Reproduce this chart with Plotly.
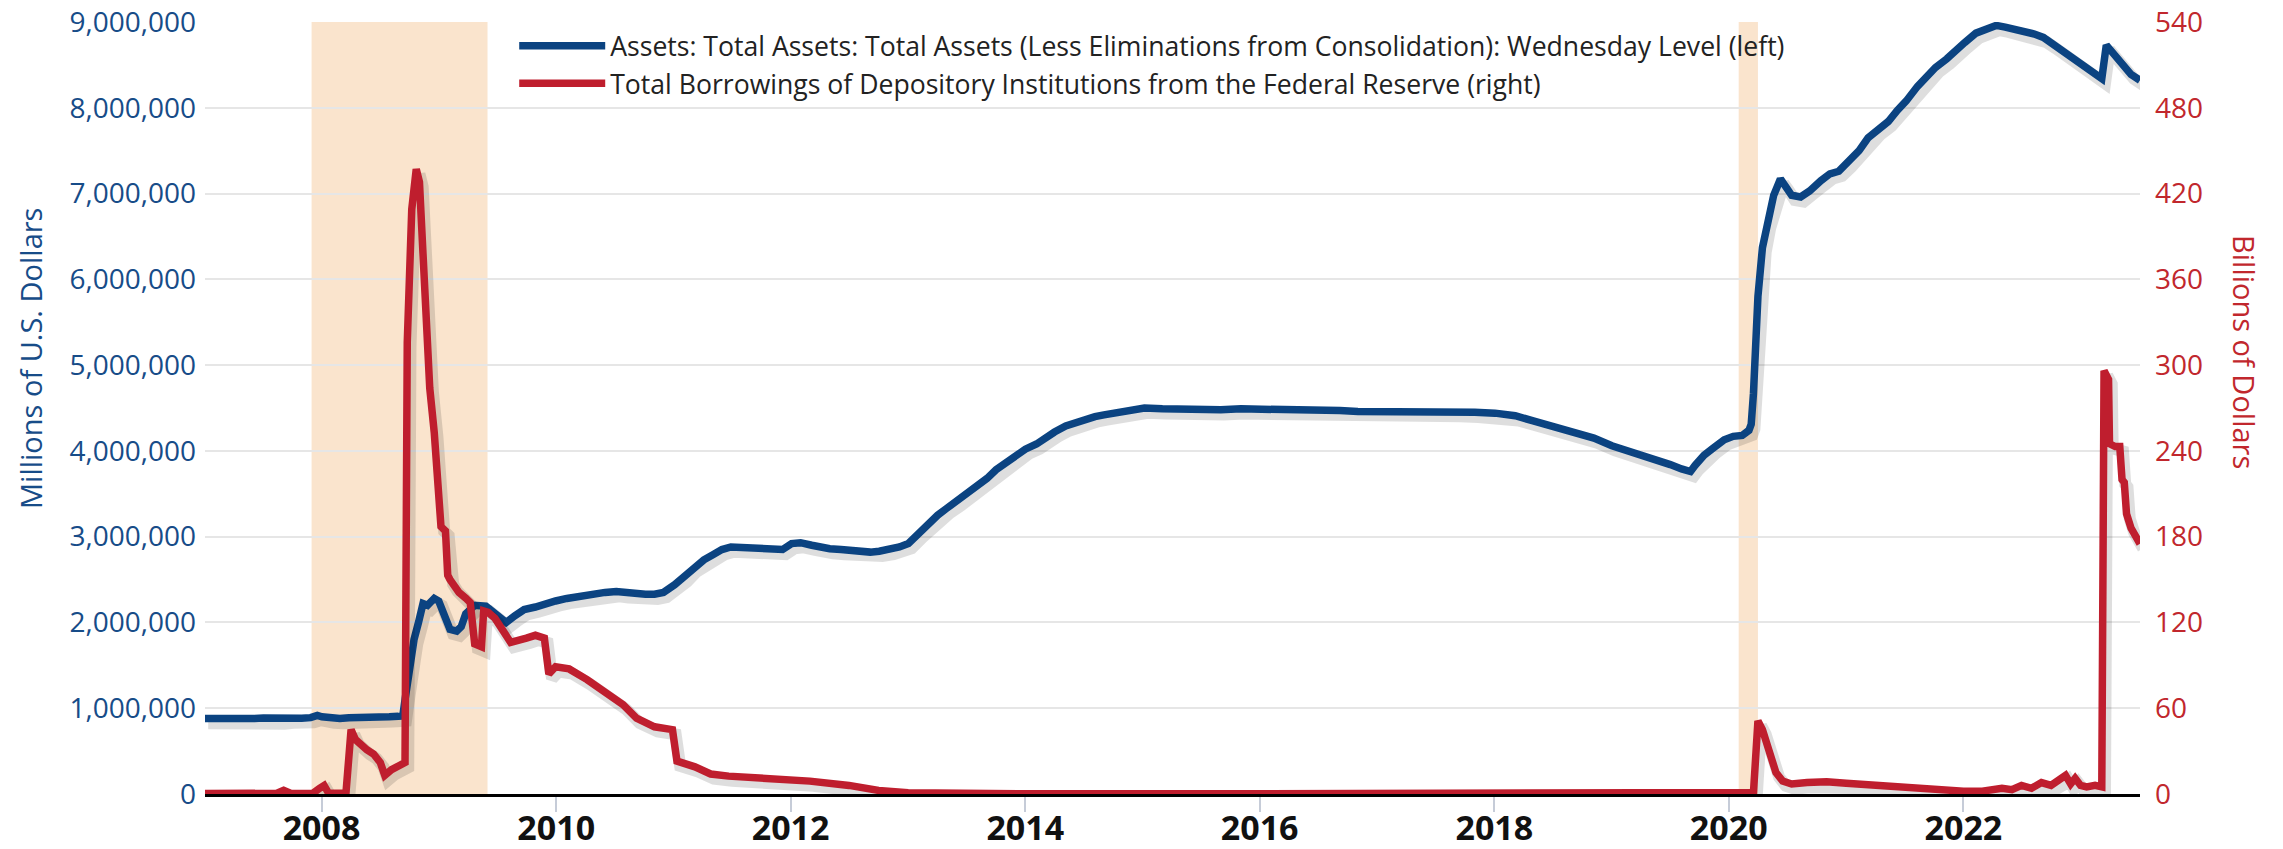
import plotly.graph_objects as go
import pandas as pd

# ---------------- data ----------------
assets_dates = [
    "2007-01-03", "2007-02-07", "2007-03-07", "2007-04-04", "2007-05-02", "2007-06-06",
    "2007-07-04", "2007-08-01", "2007-08-29", "2007-09-26", "2007-10-31", "2007-11-28",
    "2007-12-19", "2008-01-02", "2008-01-30", "2008-02-27", "2008-03-26", "2008-04-30",
    "2008-05-28", "2008-06-25", "2008-07-30", "2008-08-27", "2008-09-10", "2008-09-17",
    "2008-10-01", "2008-10-15", "2008-10-29", "2008-11-12", "2008-11-26", "2008-12-17",
    "2008-12-31", "2009-01-14", "2009-02-04", "2009-02-25", "2009-03-11", "2009-03-25",
    "2009-04-22", "2009-05-27", "2009-06-24", "2009-07-29", "2009-08-26", "2009-09-23",
    "2009-10-28", "2009-11-25", "2009-12-30", "2010-02-03", "2010-03-03", "2010-04-07",
    "2010-05-05", "2010-06-02", "2010-07-07", "2010-08-04", "2010-09-01", "2010-10-06",
    "2010-11-03", "2010-12-01", "2011-01-05", "2011-02-02", "2011-03-02", "2011-04-06",
    "2011-05-04", "2011-06-01", "2011-06-29", "2011-08-03", "2011-09-07", "2011-10-05",
    "2011-11-02", "2011-12-07", "2012-01-04", "2012-02-01", "2012-03-07", "2012-04-04",
    "2012-05-02", "2012-06-06", "2012-07-04", "2012-08-01", "2012-09-05", "2012-10-03",
    "2012-11-07", "2012-12-05", "2013-01-02", "2013-02-06", "2013-03-06", "2013-04-03",
    "2013-05-01", "2013-06-05", "2013-07-03", "2013-08-07", "2013-09-04", "2013-10-02",
    "2013-11-06", "2013-12-04", "2014-01-01", "2014-02-05", "2014-03-05", "2014-04-02",
    "2014-05-07", "2014-06-04", "2014-07-02", "2014-08-06", "2014-09-03", "2014-10-01",
    "2014-11-05", "2014-12-03", "2015-01-07", "2015-03-04", "2015-05-06", "2015-07-01",
    "2015-09-02", "2015-11-04", "2016-01-06", "2016-03-02", "2016-05-04", "2016-07-06",
    "2016-09-07", "2016-11-02", "2017-01-04", "2017-03-01", "2017-05-03", "2017-07-05",
    "2017-09-06", "2017-11-01", "2018-01-03", "2018-03-07", "2018-05-02", "2018-07-04",
    "2018-09-05", "2018-11-07", "2019-01-02", "2019-03-06", "2019-05-01", "2019-07-03",
    "2019-08-07", "2019-09-04", "2019-09-18", "2019-10-16", "2019-11-13", "2019-12-18",
    "2020-01-15", "2020-02-12", "2020-03-04", "2020-03-11", "2020-03-18", "2020-03-25",
    "2020-04-01", "2020-04-15", "2020-04-29", "2020-05-20", "2020-06-10", "2020-06-24",
    "2020-07-15", "2020-08-12", "2020-09-09", "2020-10-14", "2020-11-11", "2020-12-09",
    "2021-01-06", "2021-02-10", "2021-03-10", "2021-04-07", "2021-05-12", "2021-06-09",
    "2021-07-07", "2021-08-11", "2021-09-08", "2021-10-06", "2021-11-10", "2021-12-08",
    "2022-01-05", "2022-02-09", "2022-03-09", "2022-04-13", "2022-05-11", "2022-06-08",
    "2022-07-06", "2022-08-10", "2022-09-07", "2022-10-05", "2022-11-09", "2022-12-07",
    "2023-01-04", "2023-02-08", "2023-03-08", "2023-03-22", "2023-04-12", "2023-05-10",
    "2023-06-07", "2023-07-05",
]
assets_values = [
    880000, 875000, 880000, 882000, 885000, 880000,
    885000, 880000, 875000, 885000, 882000, 890000,
    915000, 900000, 885000, 880000, 890000, 888000,
    893000, 895000, 900000, 905000, 910000, 1100000,
    1500000, 1800000, 2000000, 2220000, 2200000, 2280000,
    2250000, 2100000, 1920000, 1900000, 1950000, 2100000,
    2200000, 2190000, 2100000, 2000000, 2080000, 2150000,
    2180000, 2220000, 2250000, 2280000, 2300000, 2330000,
    2340000, 2350000, 2360000, 2345000, 2335000, 2330000,
    2330000, 2350000, 2440000, 2530000, 2640000, 2730000,
    2790000, 2850000, 2880000, 2870000, 2870000, 2865000,
    2860000, 2850000, 2920000, 2930000, 2900000, 2870000,
    2860000, 2850000, 2840000, 2830000, 2820000, 2830000,
    2850000, 2880000, 2920000, 3050000, 3150000, 3250000,
    3330000, 3420000, 3500000, 3600000, 3680000, 3780000,
    3880000, 3950000, 4020000, 4080000, 4160000, 4220000,
    4290000, 4330000, 4370000, 4400000, 4420000, 4440000,
    4460000, 4480000, 4500000, 4490000, 4480000, 4490000,
    4480000, 4490000, 4490000, 4480000, 4480000, 4470000,
    4470000, 4460000, 4460000, 4460000, 4470000, 4470000,
    4460000, 4450000, 4440000, 4410000, 4350000, 4290000,
    4230000, 4150000, 4060000, 3990000, 3920000, 3840000,
    3790000, 3760000, 3830000, 3950000, 4030000, 4130000,
    4170000, 4180000, 4240000, 4310000, 4670000, 5250000,
    5800000, 6370000, 6650000, 6980000, 7170000, 7100000,
    6980000, 6960000, 7030000, 7150000, 7230000, 7260000,
    7360000, 7500000, 7650000, 7740000, 7840000, 7970000,
    8080000, 8250000, 8370000, 8470000, 8570000, 8680000,
    8760000, 8870000, 8910000, 8960000, 8940000, 8920000,
    8890000, 8860000, 8820000, 8750000, 8660000, 8570000,
    8520000, 8420000, 8340000, 8730000, 8630000, 8510000,
    8390000, 8320000,
]

borrow_dates = [
    "2007-01-03", "2007-07-04", "2007-08-15", "2007-09-05", "2007-09-26", "2007-11-01",
    "2007-12-05", "2007-12-26", "2008-01-09", "2008-01-23", "2008-02-20", "2008-03-17",
    "2008-04-02", "2008-04-16", "2008-05-21", "2008-06-11", "2008-07-02", "2008-07-16",
    "2008-08-06", "2008-09-10", "2008-09-17", "2008-09-24", "2008-10-08", "2008-10-22",
    "2008-11-01", "2008-11-12", "2008-11-26", "2008-12-03", "2008-12-17", "2008-12-31",
    "2009-01-07", "2009-01-21", "2009-01-28", "2009-02-04", "2009-02-18", "2009-03-04",
    "2009-03-25", "2009-04-08", "2009-04-22", "2009-05-13", "2009-05-20", "2009-06-03",
    "2009-06-24", "2009-07-29", "2009-08-12", "2009-09-30", "2009-10-28", "2009-11-25",
    "2009-12-09", "2009-12-30", "2010-02-10", "2010-04-07", "2010-05-26", "2010-07-28",
    "2010-09-08", "2010-11-03", "2010-12-29", "2011-01-12", "2011-03-09", "2011-04-27",
    "2011-06-22", "2011-11-16", "2012-03-01", "2012-07-01", "2012-10-01", "2013-01-01",
    "2013-06-01", "2014-01-01", "2016-01-01", "2018-01-01", "2019-12-01", "2020-03-18",
    "2020-04-01", "2020-04-15", "2020-05-06", "2020-05-27", "2020-06-17", "2020-07-15",
    "2020-09-01", "2020-11-01", "2021-01-01", "2021-04-01", "2021-07-01", "2021-10-01",
    "2022-01-01", "2022-03-01", "2022-05-01", "2022-06-01", "2022-07-01", "2022-08-01",
    "2022-09-01", "2022-10-01", "2022-11-01", "2022-11-15", "2022-12-01", "2022-12-15",
    "2023-01-01", "2023-01-20", "2023-02-15", "2023-03-08", "2023-03-15", "2023-03-29",
    "2023-04-01", "2023-04-19", "2023-05-03", "2023-05-10", "2023-05-17", "2023-05-24",
    "2023-06-07", "2023-07-05",
]
borrow_values = [
    0.3, 0.3, 0.5, 2.5, 0.5, 0.3,
    0.5, 4, 6, 0.5, 0.3, 0.5,
    45, 38, 31, 28, 22, 13,
    17, 20, 22, 316, 409, 437,
    428, 378, 300, 284, 253, 206,
    187, 184, 153, 150, 145, 141,
    137, 134, 105, 103, 128, 127,
    123, 112, 106, 109, 111, 109,
    84, 89, 87.5, 80, 72, 62.5,
    53, 47, 45, 23, 19, 14,
    12.5, 11, 9, 6, 2.5, 0.8,
    0.3, 0.2, 0.2, 0.1, 0.1, 1,
    51, 45, 30, 15, 9, 7,
    8, 8.5, 7.5, 6, 4.5, 3,
    2, 2, 4, 3, 6, 4,
    8, 6, 10, 13, 7, 11,
    6, 5, 6, 5, 296, 290,
    245, 243, 243, 220, 218, 196,
    186, 175,
]

recession_starts = ["2007-12-01", "2020-02-01"]
recession_ends = ["2009-06-01", "2020-04-01"]

x_tick_values = ["2008-01-01", "2010-01-01", "2012-01-01", "2014-01-01",
                 "2016-01-01", "2018-01-01", "2020-01-01", "2022-01-01"]
x_tick_labels = ["2008", "2010", "2012", "2014", "2016", "2018", "2020", "2022"]
left_ticks = [0, 1000000, 2000000, 3000000, 4000000, 5000000, 6000000, 7000000, 8000000, 9000000]
right_ticks = [0, 60, 120, 180, 240, 300, 360, 420, 480, 540]

assets_name = "Assets: Total Assets: Total Assets (Less Eliminations from Consolidation): Wednesday Level (left)"
borrow_name = "Total Borrowings of Depository Institutions from the Federal Reserve (right)"
left_title = "Millions of U.S. Dollars"
right_title = "Billions of Dollars"

# ---------------- styles ----------------
BLUE = "#0b4381"
RED = "#bf1e2e"
BLUE_TXT = "#174c88"
RED_TXT = "#c1272d"
SHADE = "#fae4cd"
FONT = "Open Sans"
W, H = 2283, 849
ML, MR, MT, MB = 205, 143, 22, 55

a_dates = pd.to_datetime(assets_dates)
b_dates = pd.to_datetime(borrow_dates)
shift = pd.Timedelta(days=10)

fig = go.Figure()

# soft drop shadows (derived from the same series)
fig.add_trace(go.Scatter(x=a_dates + shift, y=[v - 55000 for v in assets_values],
                         mode="lines", line=dict(color="rgba(0,0,0,0.13)", width=12),
                         showlegend=False, hoverinfo="skip", yaxis="y"))
fig.add_trace(go.Scatter(x=b_dates + shift, y=[v - 3.3 for v in borrow_values],
                         mode="lines", line=dict(color="rgba(0,0,0,0.13)", width=12),
                         showlegend=False, hoverinfo="skip", yaxis="y2"))

fig.add_trace(go.Scatter(x=a_dates, y=assets_values, mode="lines", name=assets_name,
                         line=dict(color=BLUE, width=7.5), yaxis="y"))
fig.add_trace(go.Scatter(x=b_dates, y=borrow_values, mode="lines", name=borrow_name,
                         line=dict(color=RED, width=7.5), yaxis="y2"))

for s, e in zip(recession_starts, recession_ends):
    fig.add_shape(type="rect", xref="x", yref="paper", x0=s, x1=e, y0=0, y1=1,
                  fillcolor=SHADE, line=dict(width=0), layer="below")

plot_h = H - MT - MB
# axis titles placed as text annotations (they sit above the vertical centre in the reference)
fig.add_annotation(text=left_title, textangle=-90, xref="paper", yref="paper",
                   x=(30 - ML) / (W - ML - MR), y=(H - MB - 359) / plot_h,
                   xanchor="center", yanchor="middle", showarrow=False,
                   font=dict(family=FONT, size=29, color=BLUE_TXT))
fig.add_annotation(text=right_title, textangle=90, xref="paper", yref="paper",
                   x=(2245 - ML) / (W - ML - MR), y=(H - MB - 352) / plot_h,
                   xanchor="center", yanchor="middle", showarrow=False,
                   font=dict(family=FONT, size=29, color=RED_TXT))

fig.update_layout(
    width=W, height=H,
    margin=dict(l=ML, r=MR, t=MT, b=MB, autoexpand=False),
    paper_bgcolor="white", plot_bgcolor="white",
    font=dict(family=FONT),
    showlegend=True,
    legend=dict(x=0.1598, y=1.0, xanchor="left", yanchor="top",
                bgcolor="rgba(0,0,0,0)", font=dict(size=26.6, color="#222222", family=FONT),
                tracegroupgap=0, itemwidth=86),
    xaxis=dict(
        type="date", automargin=False,
        range=["2007-01-03", "2023-07-05"],
        tickvals=x_tick_values, ticktext=x_tick_labels,
        tickfont=dict(family=FONT, size=34, color="#111111", weight="bold"),
        ticks="outside", ticklen=15, tickwidth=2, tickcolor="#c6ccd8",
        ticklabelstandoff=-13,
        showgrid=False, showline=True, linecolor="#000000", linewidth=3,
        zeroline=False,
    ),
    yaxis=dict(
        range=[0, 9000000], tickvals=left_ticks, tickformat=",d", automargin=False,
        tickfont=dict(family=FONT, size=28, color=BLUE_TXT),
        showgrid=True, gridcolor="#e6e6e6", gridwidth=2,
        zeroline=False, showline=False, ticks="", ticklabelstandoff=8,
    ),
    yaxis2=dict(
        range=[0, 540], tickvals=right_ticks, overlaying="y", side="right", automargin=False,
        tickfont=dict(family=FONT, size=28, color=RED_TXT),
        showgrid=False, zeroline=False, showline=False, ticks="", ticklabelstandoff=14,
    ),
)

fig.write_html("out.html", config={"displayModeBar": False},
               post_script="document.body.style.margin='0px';document.body.style.overflow='hidden';")
